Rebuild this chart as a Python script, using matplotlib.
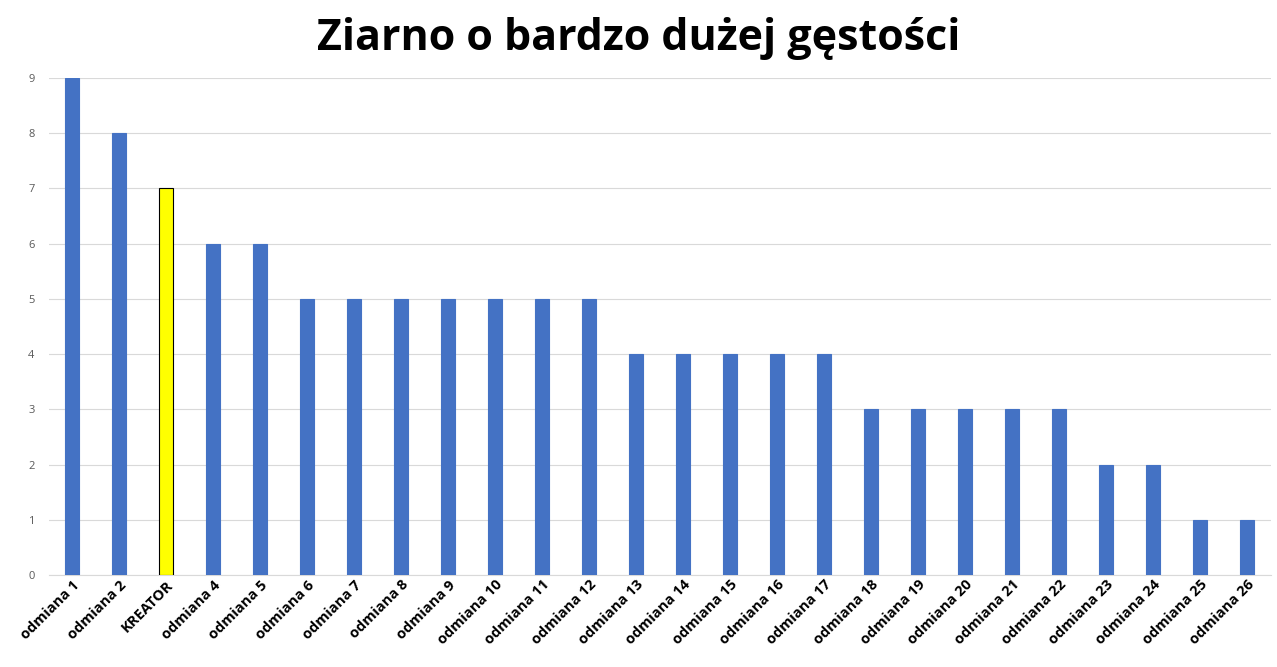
import matplotlib
matplotlib.use("Agg")
import matplotlib.pyplot as plt

plt.rcParams['font.family'] = ['Open Sans', 'DejaVu Sans']

labels = ['odmiana 1', 'odmiana 2', 'KREATOR'] + [f'odmiana {i}' for i in range(4, 27)]
values = [9, 8, 7, 6, 6, 5, 5, 5, 5, 5, 5, 5, 4, 4, 4, 4, 4, 3, 3, 3, 3, 3, 2, 2, 1, 1]
colors = ['#FFFF00' if l == 'KREATOR' else '#4472C4' for l in labels]
edges = ['black' if l == 'KREATOR' else '#4472C4' for l in labels]

fig = plt.figure(figsize=(12.77, 6.67), dpi=100)
ax = fig.add_axes([48.5 / 1277, 1 - 575 / 667, 1222 / 1277, 497 / 667])
ax.bar(range(len(labels)), values, width=0.3, color=colors, edgecolor=edges, linewidth=0.8, zorder=3)
ax.set_xlim(-0.5, len(labels) - 0.5)
ax.set_ylim(0, 9)
ax.set_yticks(range(10))
ax.tick_params(axis='y', labelsize=8, labelcolor='#595959', length=0, pad=10)
ax.tick_params(axis='x', length=0, pad=2)
ax.set_xticks(range(len(labels)))
ax.set_xticklabels(labels, rotation=45, ha='right', rotation_mode='anchor', fontsize=10.5, fontweight='bold')
ax.grid(axis='y', color='#D9D9D9', linewidth=0.8, zorder=0)
for s in ['top', 'right', 'left']:
    ax.spines[s].set_visible(False)
ax.spines['bottom'].set_color('#D9D9D9')
fig.text(0.5, 1 - 38 / 667, 'Ziarno o bardzo dużej gęstości', ha='center', va='center',
         fontsize=31, fontweight='bold')
fig.savefig('out.png', dpi=100)
